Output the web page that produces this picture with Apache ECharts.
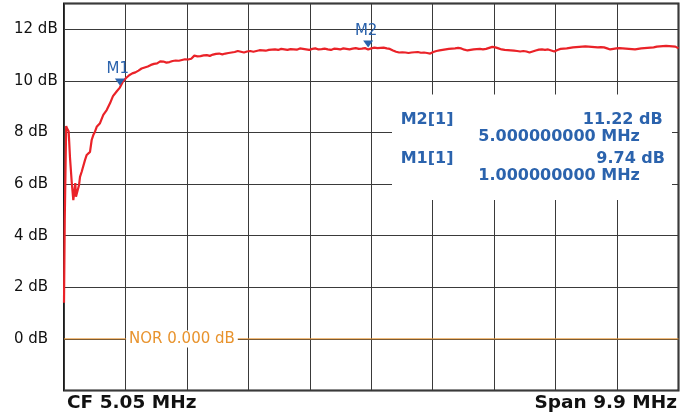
<!DOCTYPE html>
<html>
<head>
<meta charset="utf-8">
<script src="https://cdn.jsdelivr.net/npm/echarts@6/dist/echarts.min.js"></script>
<style>
  html, body { margin: 0; padding: 0; background: #fff; }
  #chart { width: 691px; height: 415px; }
</style>
</head>
<body>
<div id="chart"></div>
<script>
// Trace 1: level vs. frequency, 0.1 MHz .. 10 MHz
const freqMHz = [
  0.100, 0.112, 0.135, 0.150, 0.175, 0.197, 0.224, 0.250, 0.266, 0.282,
  0.293, 0.321, 0.342, 0.358, 0.385, 0.411, 0.438, 0.466, 0.519, 0.546,
  0.572, 0.599, 0.627, 0.680, 0.733, 0.788, 0.841, 0.889, 0.954,
  1.00, 1.05, 1.10, 1.15, 1.20, 1.25, 1.30, 1.35, 1.40, 1.45,
  1.50, 1.55, 1.60, 1.65, 1.70, 1.75, 1.80, 1.85, 1.90, 1.95,
  2.00, 2.05, 2.10, 2.15, 2.20, 2.25, 2.30, 2.35, 2.40, 2.45,
  2.50, 2.55, 2.60, 2.65, 2.70, 2.75, 2.80, 2.85, 2.90, 2.95,
  3.00, 3.05, 3.10, 3.15, 3.20, 3.25, 3.30, 3.35, 3.40, 3.45,
  3.50, 3.55, 3.60, 3.65, 3.70, 3.75, 3.80, 3.85, 3.90, 3.95,
  4.00, 4.05, 4.10, 4.15, 4.20, 4.25, 4.30, 4.35, 4.40, 4.45,
  4.50, 4.55, 4.60, 4.65, 4.70, 4.75, 4.80, 4.85, 4.90, 4.95,
  5.00, 5.05, 5.10, 5.15, 5.20, 5.25, 5.30, 5.35, 5.40, 5.45,
  5.50, 5.55, 5.60, 5.65, 5.70, 5.75, 5.80, 5.85, 5.90, 5.95,
  6.00, 6.05, 6.10, 6.15, 6.20, 6.25, 6.30, 6.35, 6.40, 6.45,
  6.50, 6.55, 6.60, 6.65, 6.70, 6.75, 6.80, 6.85, 6.90, 6.95,
  7.00, 7.05, 7.10, 7.15, 7.20, 7.25, 7.30, 7.35, 7.40, 7.45,
  7.50, 7.55, 7.60, 7.65, 7.70, 7.75, 7.80, 7.85, 7.90, 7.95,
  8.00, 8.05, 8.10, 8.15, 8.20, 8.25, 8.30, 8.35, 8.40, 8.45,
  8.50, 8.55, 8.60, 8.65, 8.70, 8.75, 8.80, 8.85, 8.90, 8.95,
  9.00, 9.05, 9.10, 9.15, 9.20, 9.25, 9.30, 9.35, 9.40, 9.45,
  9.50, 9.55, 9.60, 9.65, 9.70, 9.75, 9.80, 9.85, 9.90, 9.95,
  10.00
];
const levelDb = [
  1.40, 4.60, 8.25, 8.15, 8.05, 7.01, 6.09, 5.38, 5.38, 6.04,
  5.51, 5.77, 5.96, 6.28, 6.48, 6.54, 6.93, 7.13, 7.25, 7.71,
  7.90, 8.03, 8.22, 8.36, 8.68, 8.87, 9.13, 9.41, 9.61,
  9.74, 9.98, 10.11, 10.22, 10.29, 10.33, 10.40, 10.48, 10.52, 10.56,
  10.62, 10.66, 10.68, 10.76, 10.75, 10.71, 10.73, 10.77, 10.79, 10.78,
  10.81, 10.84, 10.83, 10.86, 10.98, 10.95, 10.96, 10.99, 11.00, 10.97,
  11.02, 11.05, 11.06, 11.03, 11.06, 11.08, 11.10, 11.12, 11.16, 11.13,
  11.10, 11.14, 11.16, 11.13, 11.16, 11.19, 11.18, 11.17, 11.20, 11.21,
  11.22, 11.20, 11.24, 11.22, 11.20, 11.23, 11.22, 11.21, 11.26, 11.24,
  11.22, 11.20, 11.24, 11.26, 11.22, 11.23, 11.25, 11.22, 11.20, 11.25,
  11.24, 11.22, 11.26, 11.24, 11.22, 11.25, 11.27, 11.24, 11.25, 11.27,
  11.22, 11.26, 11.29, 11.27, 11.28, 11.29, 11.26, 11.24, 11.18, 11.13,
  11.10, 11.11, 11.10, 11.08, 11.10, 11.11, 11.12, 11.09, 11.10, 11.08,
  11.06, 11.12, 11.16, 11.18, 11.20, 11.22, 11.24, 11.25, 11.26, 11.28,
  11.26, 11.21, 11.18, 11.20, 11.22, 11.23, 11.24, 11.22, 11.24, 11.28,
  11.32, 11.30, 11.26, 11.22, 11.20, 11.19, 11.18, 11.17, 11.16, 11.14,
  11.16, 11.14, 11.10, 11.14, 11.18, 11.21, 11.22, 11.20, 11.22, 11.18,
  11.14, 11.20, 11.24, 11.25, 11.26, 11.28, 11.30, 11.31, 11.32, 11.33,
  11.34, 11.33, 11.32, 11.31, 11.30, 11.31, 11.30, 11.26, 11.22, 11.24,
  11.26, 11.27, 11.26, 11.25, 11.24, 11.23, 11.22, 11.24, 11.26, 11.27,
  11.28, 11.29, 11.30, 11.33, 11.34, 11.35, 11.36, 11.35, 11.34, 11.33,
  11.26
];

// Level axis tick labels (dB)
const levelTicks = [0, 2, 4, 6, 8, 10, 12];

// Markers
const markerNames = ['M1', 'M2'];
const markerFreq = [1.0, 5.0];
const markerLevel = [9.74, 11.22];

// Normalisation reference line
const norLevel = 0;
const norLabelFreq = 2.0;
const norText = 'NOR 0.000 dB';

// Footer texts
const centerText = 'CF 5.05 MHz';
const spanText = 'Span 9.9 MHz';

const FONT = '"DejaVu Sans", Verdana, sans-serif';
const BLUE = '#2b63ad';
const ORANGE = '#e8932d';
const RED = '#ea2228';
const GRIDLINE = '#3a3a3a';

const chart = echarts.init(document.getElementById('chart'), null, { renderer: 'canvas' });

const tracePoints = freqMHz.map((f, i) => [f, levelDb[i]]);

// Readout rows in the marker table (newest marker first)
const readoutRows = [];
[1, 0].forEach((m, row) => {
  const yName = 119.5 + row * 39.2;
  readoutRows.push(
    { type: 'text', z: 11, style: { text: markerNames[m] + '[1]', x: 400.7, y: yName,
      font: 'bold 16px ' + FONT, fill: BLUE, align: 'left', verticalAlign: 'middle',
      textAlign: 'left', textVerticalAlign: 'middle' } },
    { type: 'text', z: 11, style: { text: markerLevel[m].toFixed(2) + ' dB', x: m === 1 ? 662.7 : 665, y: yName,
      font: 'bold 16px ' + FONT, fill: BLUE, align: 'right', verticalAlign: 'middle',
      textAlign: 'right', textVerticalAlign: 'middle' } },
    { type: 'text', z: 11, style: { text: markerFreq[m].toFixed(9) + ' MHz', x: 478.3, y: yName + 17.6,
      font: 'bold 16px ' + FONT, fill: BLUE, align: 'left', verticalAlign: 'middle',
      textAlign: 'left', textVerticalAlign: 'middle' } }
  );
});

const option = {
  animation: false,
  backgroundColor: '#fff',
  grid: {
    left: 64, right: 12.5, top: 3.5, bottom: 24.5,
    show: true, borderColor: '#1a1a1a', borderWidth: 2, backgroundColor: 'transparent'
  },
  xAxis: [
    { type: 'value', min: 0.1, max: 10, show: false },
    {
      type: 'value', min: 0, max: 10, interval: 1,
      axisLine: { show: false }, axisTick: { show: false }, axisLabel: { show: false },
      splitLine: { show: true, lineStyle: { color: GRIDLINE, width: 1 } }
    }
  ],
  yAxis: {
    type: 'value', min: -2, max: 13, interval: 2,
    axisLine: { show: false }, axisTick: { show: false },
    splitLine: { show: true, lineStyle: { color: GRIDLINE, width: 1 } },
    axisLabel: {
      margin: 50, align: 'left', fontFamily: FONT, fontSize: 15, color: '#111',
      formatter: v => levelTicks.includes(v) ? v + ' dB' : ''
    }
  },
  series: [
    {
      type: 'line', xAxisIndex: 0, silent: true, z: 1,
      data: [[0.1, norLevel], [10, norLevel]],
      symbol: 'none', lineStyle: { color: ORANGE, width: 1 }
    },
    {
      type: 'line', xAxisIndex: 0, z: 3,
      data: tracePoints,
      symbol: 'none',
      lineStyle: { color: RED, width: 2.2 },
      markPoint: {
        symbol: 'triangle', symbolRotate: 180, symbolSize: [10, 7], symbolOffset: [0, -5.5],
        itemStyle: { color: BLUE },
        label: {
          show: true, position: 'top', distance: 2, offset: [-2, 0],
          color: BLUE, fontFamily: FONT, fontSize: 15,
          formatter: p => p.name
        },
        data: markerNames.map((n, i) => ({ name: n, coord: [markerFreq[i], markerLevel[i]] }))
      }
    }
  ],
  graphic: [
    { type: 'rect', z: 10, shape: { x: 392, y: 94.5, width: 280, height: 105.5 }, style: { fill: '#fff' } },
    ...readoutRows,
    { type: 'text', z: 11, style: { text: centerText, x: 67, y: 403,
      font: 'bold 18.5px ' + FONT, fill: '#111', align: 'left', verticalAlign: 'middle',
      textAlign: 'left', textVerticalAlign: 'middle' } },
    { type: 'text', z: 11, style: { text: spanText, x: 677, y: 403,
      font: 'bold 18.5px ' + FONT, fill: '#111', align: 'right', verticalAlign: 'middle',
      textAlign: 'right', textVerticalAlign: 'middle' } }
  ]
};

chart.setOption(option);

// Reference-level caption, placed on the NOR line through the axis scales
const norPos = chart.convertToPixel({ xAxisIndex: 0, yAxisIndex: 0 }, [norLabelFreq, norLevel]);
chart.setOption({
  graphic: [
    { type: 'text', id: 'norLabel', z: 9, style: {
      text: norText, x: norPos[0], y: norPos[1],
      font: '15px ' + FONT, fill: ORANGE,
      align: 'center', verticalAlign: 'middle', textAlign: 'center', textVerticalAlign: 'middle',
      backgroundColor: '#fff', padding: [1, 3]
    } }
  ]
});
</script>
</body>
</html>
